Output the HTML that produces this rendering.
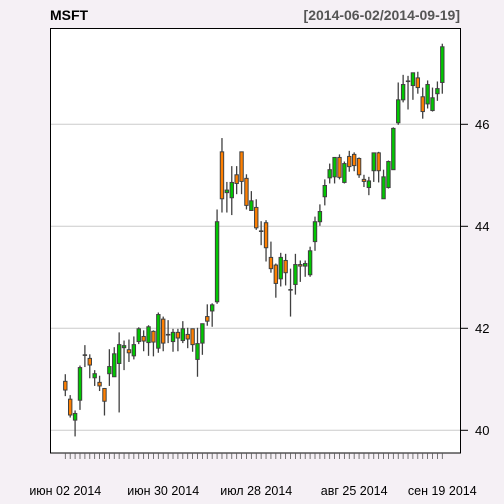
<!DOCTYPE html>
<html><head><meta charset="utf-8"><style>
html,body{margin:0;padding:0;background:#F5F0F5;}
svg{display:block;font-family:"Liberation Sans",sans-serif;}
</style></head><body>
<svg id="chart" width="504" height="504" viewBox="0 0 504 504" xmlns="http://www.w3.org/2000/svg">
<rect x="0" y="0" width="504" height="504" fill="#F5F0F5"/>
<text x="50" y="20" font-size="14" font-weight="bold" fill="#000">MSFT</text>
<text x="460" y="20" font-size="14" font-weight="bold" fill="#555" text-anchor="end">[2014-06-02/2014-09-19]</text>
<rect x="50.5" y="28.5" width="410" height="424.5" fill="#fff"/>
<g id="grid"></g>
<g id="candles"></g>
<rect x="50.5" y="28.5" width="410" height="424.5" fill="none" stroke="#000" stroke-width="1"/>
<g id="yaxis"></g>
<g id="xaxis"></g>
</svg>
<script>
const opens  = [40.96,40.61,40.20,40.59,41.48,41.41,41.03,40.94,40.82,41.11,41.05,41.31,41.62,41.58,41.46,41.74,41.84,41.72,41.94,41.61,42.18,41.88,41.74,41.92,41.76,41.88,41.99,41.39,41.71,42.23,42.34,42.52,45.46,44.66,44.56,45.01,45.46,44.94,44.31,44.37,43.91,44.07,43.39,43.24,42.97,43.33,42.76,42.86,43.25,43.22,43.05,43.70,44.09,44.58,44.95,44.97,45.35,44.86,45.37,45.41,45.33,44.92,44.76,45.09,45.44,44.54,44.76,45.11,46.03,46.48,46.85,46.76,46.91,46.54,46.40,46.27,46.60,46.82];
const highs  = [41.10,40.69,40.39,41.27,41.67,41.49,41.18,41.07,40.83,41.59,41.63,41.92,41.76,41.78,41.84,42.02,41.96,42.06,41.96,42.31,42.23,42.16,41.99,41.99,42.14,42.01,41.99,42.01,42.09,42.47,42.49,44.33,45.73,44.87,45.18,45.18,45.46,45.02,44.69,44.53,44.10,44.12,43.70,43.27,43.48,43.46,43.17,43.46,43.33,43.33,43.60,44.19,44.43,44.92,45.23,45.35,45.41,45.27,45.48,45.45,45.35,45.01,44.97,45.44,45.46,45.11,45.29,45.94,46.82,46.97,46.95,47.01,47.03,46.72,46.86,46.72,46.84,47.58];
const lows   = [40.67,40.25,39.88,40.40,41.24,41.02,40.87,40.77,40.29,40.87,41.05,40.35,41.18,41.34,41.39,41.69,41.55,41.46,41.45,41.52,41.55,41.71,41.54,41.55,41.71,41.61,41.54,41.05,41.48,42.05,42.03,42.48,44.27,44.27,44.22,44.63,44.63,44.33,44.31,43.93,43.63,43.31,43.09,42.60,42.82,42.84,42.23,42.66,42.91,43.01,43.01,43.52,44.01,44.41,44.84,44.84,44.92,44.84,45.07,45.08,44.95,44.77,44.61,44.87,44.86,44.54,44.74,45.11,45.99,46.43,46.29,46.48,46.60,46.11,46.31,46.25,46.46,46.60];
const closes = [40.79,40.30,40.33,41.23,41.48,41.28,41.11,40.87,40.57,41.25,41.50,41.68,41.66,41.52,41.68,41.99,41.75,42.03,41.73,42.27,41.71,41.88,41.92,41.81,41.99,41.79,41.68,41.70,42.09,42.14,42.46,44.09,44.54,44.71,44.86,44.84,44.88,44.41,44.50,43.97,43.91,43.58,43.17,42.88,43.39,43.09,42.76,43.25,43.22,43.27,43.52,44.09,44.29,44.80,45.11,45.35,44.96,45.23,45.17,45.19,45.01,44.88,44.89,45.44,45.09,44.97,45.27,45.92,46.48,46.78,46.85,47.01,46.72,46.25,46.78,46.52,46.70,47.52];
const yTicks = [40,42,44,46];
const xLabelIdx = [0,20,39,59,77];
const xLabels = ["июн 02 2014","июн 30 2014","июл 28 2014","авг 25 2014","сен 19 2014"];

const NS="http://www.w3.org/2000/svg";
const n = opens.length;
function xs(i){ return 65.3 + i*(442.3-65.3)/(n-1); }
function ys(v){ return 430.3 - (v-40)*51; }
function mk(tag, attrs, parent){
  const e=document.createElementNS(NS,tag);
  for(const k in attrs) e.setAttribute(k, attrs[k]);
  parent.appendChild(e); return e;
}
const grid=document.getElementById('grid'), cg=document.getElementById('candles');
const ya=document.getElementById('yaxis'), xa=document.getElementById('xaxis');
yTicks.forEach(t=>{
  const y=ys(t);
  const g=mk('line',{x1:50.5,x2:460.5,y1:y,y2:y,stroke:'#ccc','stroke-width':1},grid);
  
  
  const tk=mk('line',{x1:460.5,x2:468,y1:y,y2:y,stroke:'#000','stroke-width':1},ya);
  
  
  const tx=mk('text',{x:475,y:y+4.5,'font-size':13,fill:'#000'},ya);
  tx.textContent=String(t);
  
  
});
for(let i=0;i<n;i++){
  const x=xs(i);
  const tk=mk('line',{x1:x,x2:x,y1:453,y2:459,stroke:'#555','stroke-width':0.8},xa);
  
  
  const up=closes[i]>=opens[i];
  const g=mk('g',{},cg);
  
  
  const w=mk('line',{x1:x,x2:x,y1:ys(highs[i]),y2:ys(lows[i]),stroke:'#404040','stroke-width':1.3},g);
  
  
  const top=ys(Math.max(opens[i],closes[i])), bot=ys(Math.min(opens[i],closes[i]));
  const b=mk('rect',{x:x-1.7,y:top,width:3.4,height:Math.max(bot-top,0.6),fill:up?'#00C800':'#FF7F00',stroke:'#404040','stroke-width':1},g);
  
  
}
xLabelIdx.forEach((idx,k)=>{
  const t=mk('text',{x:xs(idx),y:495,'font-size':12.5,'text-anchor':'middle',fill:'#000'},xa);
  t.textContent=xLabels[k];
  
  
});
</script>
</body></html>
